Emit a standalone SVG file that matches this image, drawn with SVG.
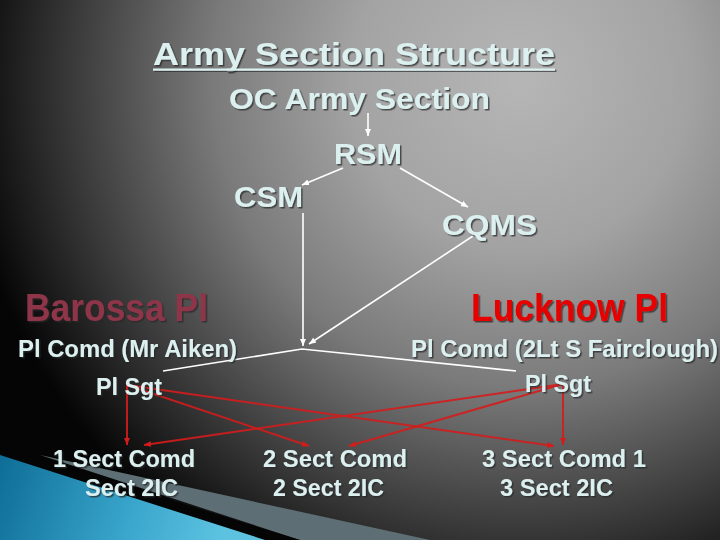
<svg xmlns="http://www.w3.org/2000/svg" width="720" height="540" viewBox="0 0 720 540">
<defs>
<radialGradient id="bg" gradientUnits="userSpaceOnUse" cx="520" cy="80" r="560">
<stop offset="0" stop-color="#b6b6b6"/>
<stop offset="0.3" stop-color="#a3a3a3"/>
<stop offset="0.55" stop-color="#7a7a7a"/>
<stop offset="0.8" stop-color="#3a3a3a"/>
<stop offset="1" stop-color="#050505"/>
</radialGradient>
<linearGradient id="cyan" gradientUnits="userSpaceOnUse" x1="0" y1="470" x2="220" y2="540">
<stop offset="0" stop-color="#0f6f98"/>
<stop offset="0.6" stop-color="#3aa6cc"/>
<stop offset="1" stop-color="#5cc2e0"/>
</linearGradient>
<filter id="sh" x="-10%" y="-30%" width="120%" height="160%">
<feDropShadow dx="1.5" dy="1.5" stdDeviation="0.6" flood-color="#2a2a2a" flood-opacity="0.75"/>
</filter>
<marker id="aw" markerUnits="userSpaceOnUse" markerWidth="7" markerHeight="6" refX="7" refY="3" orient="auto">
<path d="M0,0 L7,3 L0,6 z" fill="#ffffff"/>
</marker>
<marker id="ar" markerUnits="userSpaceOnUse" markerWidth="7" markerHeight="6" refX="7" refY="3" orient="auto">
<path d="M0,0 L7,3 L0,6 z" fill="#d41c1c"/>
</marker>
<style>
text{font-family:"Liberation Sans",Arial,sans-serif;font-weight:bold;fill:#dcf0f0;filter:url(#sh)}
.w{stroke:#ffffff;stroke-width:1.6;fill:none}
.wa{stroke:#ffffff;stroke-width:1.6;fill:none;marker-end:url(#aw)}
.r{stroke:#d41c1c;stroke-width:2;fill:none;stroke-opacity:0.9;marker-end:url(#ar)}
</style>
</defs>
<rect x="0" y="0" width="720" height="540" fill="url(#bg)"/>
<g id="decor">
<polygon points="40,455 430,540 300,540" fill="#5d6e74"/>
<polygon points="0,447 300,540 265,540 0,455" fill="#050505"/>
<polygon points="0,455 265,540 0,540" fill="url(#cyan)"/>
</g>
<g id="title">
<text x="153" y="65" font-size="32" textLength="402" lengthAdjust="spacingAndGlyphs">Army Section Structure</text>
<rect x="153" y="68.5" width="402" height="2.2" fill="#dcf0f0" filter="url(#sh)"/>
</g>
<g id="connectors">
<line class="wa" x1="368" y1="113" x2="368" y2="136"/>
<line class="wa" x1="343" y1="168" x2="302" y2="185"/>
<line class="wa" x1="400" y1="168" x2="468" y2="207"/>
<line class="wa" x1="303" y1="213" x2="303" y2="346"/>
<line class="wa" x1="473" y1="236" x2="309" y2="344"/>
<polyline class="w" points="163,371 302,349 516,371"/>
<line class="r" x1="127" y1="385" x2="127" y2="445"/>
<line class="r" x1="127" y1="385" x2="309" y2="446"/>
<line class="r" x1="127" y1="385" x2="554" y2="446"/>
<line class="r" x1="563" y1="384" x2="563" y2="445"/>
<line class="r" x1="563" y1="384" x2="144" y2="445"/>
<line class="r" x1="563" y1="384" x2="349" y2="446"/>
</g>
<g id="oc"><text x="229" y="109" font-size="29" textLength="261" lengthAdjust="spacingAndGlyphs">OC Army Section</text></g>
<g id="rsm"><text x="334" y="164" font-size="29" textLength="68" lengthAdjust="spacingAndGlyphs">RSM</text></g>
<g id="csm"><text x="234" y="207" font-size="29" textLength="69" lengthAdjust="spacingAndGlyphs">CSM</text></g>
<g id="cqms"><text x="442" y="235" font-size="29" textLength="95" lengthAdjust="spacingAndGlyphs">CQMS</text></g>
<g id="barossa"><text x="25" y="321" font-size="38" textLength="183" lengthAdjust="spacingAndGlyphs" style="fill:#8e3548">Barossa Pl</text></g>
<g id="lucknow"><text x="471" y="321" font-size="38" textLength="197" lengthAdjust="spacingAndGlyphs" style="fill:#e60000">Lucknow Pl</text></g>
<g id="plcomd-b"><text x="18" y="357" font-size="23" textLength="219" lengthAdjust="spacingAndGlyphs">Pl Comd (Mr Aiken)</text></g>
<g id="plcomd-l"><text x="411" y="357" font-size="23" textLength="307" lengthAdjust="spacingAndGlyphs">Pl Comd (2Lt S Fairclough)</text></g>
<g id="plsgt-b"><text x="96" y="395" font-size="23" textLength="66" lengthAdjust="spacingAndGlyphs">Pl Sgt</text></g>
<g id="plsgt-l"><text x="525" y="392" font-size="23" textLength="66" lengthAdjust="spacingAndGlyphs">Pl Sgt</text></g>
<g id="sect1">
<text x="53" y="467" font-size="23" textLength="142" lengthAdjust="spacingAndGlyphs">1 Sect Comd</text>
<text x="85" y="496" font-size="23" textLength="93" lengthAdjust="spacingAndGlyphs">Sect 2IC</text>
</g>
<g id="sect2">
<text x="263" y="467" font-size="23" textLength="144" lengthAdjust="spacingAndGlyphs">2 Sect Comd</text>
<text x="273" y="496" font-size="23" textLength="111" lengthAdjust="spacingAndGlyphs">2 Sect 2IC</text>
</g>
<g id="sect3">
<text x="482" y="467" font-size="23" textLength="164" lengthAdjust="spacingAndGlyphs">3 Sect Comd 1</text>
<text x="500" y="496" font-size="23" textLength="113" lengthAdjust="spacingAndGlyphs">3 Sect 2IC</text>
</g>
</svg>
